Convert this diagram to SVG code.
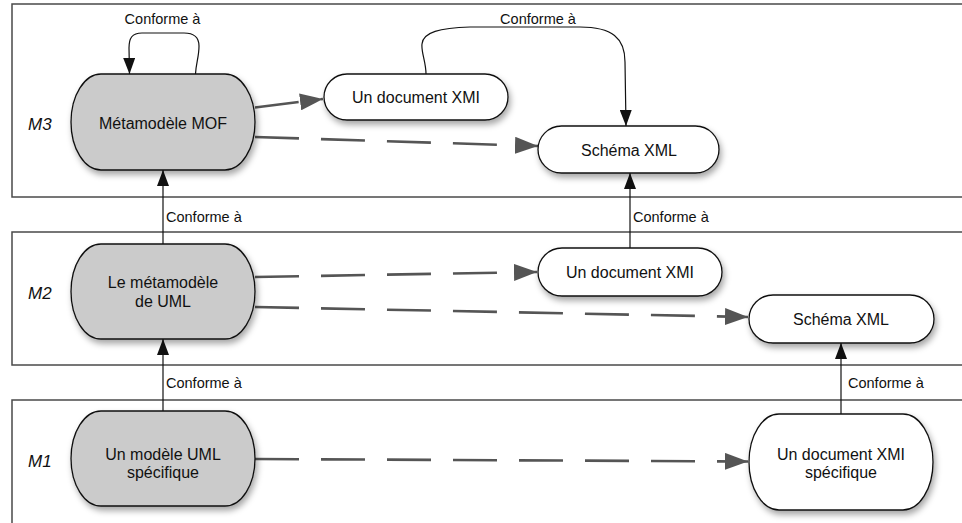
<svg xmlns="http://www.w3.org/2000/svg" width="962" height="523" viewBox="0 0 962 523">
<style>
.layer{fill:#fff;stroke:#4a4a4a;stroke-width:1.5}
.node{stroke:#111;stroke-width:1.3}
.grey{fill:#cbcbcb}
.white{fill:#fff}
.t{font-family:"Liberation Sans",Arial,sans-serif;font-size:16px;fill:#111;text-anchor:middle}
.lbl{font-family:"Liberation Sans",Arial,sans-serif;font-size:14.5px;fill:#111}
.lvl{font-family:"Liberation Sans",Arial,sans-serif;font-size:17px;font-style:italic;fill:#111}
.solid{fill:none;stroke:#111;stroke-width:1.2;marker-end:url(#ab)}
.dash{fill:none;stroke:#555;stroke-width:2.6;stroke-dasharray:44 22;marker-end:url(#ag)}
</style>
<defs>
<marker id="ab" markerUnits="userSpaceOnUse" markerWidth="16" markerHeight="12" refX="16" refY="6" orient="auto">
<path d="M0,0 L16,6 L0,12 Z" fill="#111"/>
</marker>
<marker id="ag" markerUnits="userSpaceOnUse" markerWidth="23" markerHeight="17" refX="23" refY="8.5" orient="auto">
<path d="M0,0 L23,8.5 L0,17 Z" fill="#555"/>
</marker>
<filter id="sh" x="-20%" y="-20%" width="140%" height="160%">
<feDropShadow dx="2" dy="4" stdDeviation="3" flood-color="#000" flood-opacity="0.35"/>
</filter>
</defs>

<g id="layers">
<rect class="layer" x="12" y="4" width="952" height="193"/>
<rect class="layer" x="12" y="232" width="952" height="133"/>
<rect class="layer" x="12" y="400" width="952" height="135"/>
<text class="lvl" x="28" y="129.5">M3</text>
<text class="lvl" x="28" y="299">M2</text>
<text class="lvl" x="28" y="467">M1</text>
</g>

<g id="connectors">
<path class="solid" d="M195.5,74 C196,63 199,57 199,46 C199,37 194,33 184,33 L142,33 C132,33 129,38 129,48 L129.5,74"/>
<path class="solid" d="M426,74 C426,62 421,52 422,44 C423,32 440,28 470,27 L580,27 C612,27 625,38 625,62 L626,126"/>
<path class="solid" d="M163,244 L163,170"/>
<path class="solid" d="M630,248 L630,173"/>
<path class="solid" d="M163,411 L163,339"/>
<path class="solid" d="M841,414 L841,343"/>
<path class="dash" d="M255,107.5 L323,99"/>
<path class="dash" d="M255,137 L538,146"/>
<path class="dash" d="M255,277 L537,272"/>
<path class="dash" d="M255,307 L748,317"/>
<path class="dash" d="M255,459 L748,461.5"/>
<text class="lbl" x="162.5" y="24" text-anchor="middle">Conforme à</text>
<text class="lbl" x="538" y="24" text-anchor="middle">Conforme à</text>
<text class="lbl" x="166" y="222">Conforme à</text>
<text class="lbl" x="633" y="222">Conforme à</text>
<text class="lbl" x="166" y="388">Conforme à</text>
<text class="lbl" x="848" y="388">Conforme à</text>
</g>

<g id="mof">
<path class="node grey" filter="url(#sh)" d="M101,74 H225 A30,48 0 0 1 225,170 H101 A30,48 0 0 1 101,74 Z"/>
<text class="t" x="163" y="128.5">Métamodèle MOF</text>
</g>
<g id="xmi3">
<rect class="node white" filter="url(#sh)" x="324" y="74" width="184" height="46" rx="23" ry="23"/>
<text class="t" x="416" y="103">Un document XMI</text>
</g>
<g id="schema3">
<rect class="node white" filter="url(#sh)" x="538" y="126" width="181" height="47" rx="23.5" ry="23.5"/>
<text class="t" x="629" y="156">Schéma XML</text>
</g>
<g id="uml">
<path class="node grey" filter="url(#sh)" d="M101,244 H225 A30,47.5 0 0 1 225,339 H101 A30,47.5 0 0 1 101,244 Z"/>
<text class="t" x="163" y="287.5">Le métamodèle</text>
<text class="t" x="163" y="306.5">de UML</text>
</g>
<g id="xmi2">
<rect class="node white" filter="url(#sh)" x="538" y="248" width="184" height="48" rx="24" ry="24"/>
<text class="t" x="630" y="277.5">Un document XMI</text>
</g>
<g id="schema2">
<rect class="node white" filter="url(#sh)" x="749" y="295" width="185" height="48" rx="24" ry="24"/>
<text class="t" x="841" y="325">Schéma XML</text>
</g>
<g id="umlspec">
<path class="node grey" filter="url(#sh)" d="M101,411 H225 A30,47.5 0 0 1 225,506 H101 A30,47.5 0 0 1 101,411 Z"/>
<text class="t" x="163" y="460">Un modèle UML</text>
<text class="t" x="163" y="477.5">spécifique</text>
</g>
<g id="xmispec">
<path class="node white" filter="url(#sh)" d="M779,414 H903 A30,48 0 0 1 903,510 H779 A30,48 0 0 1 779,414 Z"/>
<text class="t" x="841" y="460">Un document XMI</text>
<text class="t" x="841" y="478">spécifique</text>
</g>
</svg>
